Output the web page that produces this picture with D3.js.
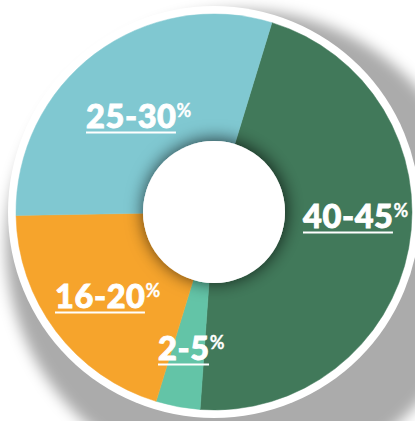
<!DOCTYPE html>
<html><head><meta charset="utf-8">
<script src="https://cdn.jsdelivr.net/npm/d3@7/dist/d3.min.js"></script>
<style>html,body{margin:0;padding:0;background:#fff;}svg{display:block;}</style>
</head><body>
<svg id="c" width="415" height="421"></svg>
<script>
const categories = ["40-45", "2-5", "16-20", "25-30"];
const values = [46.4, 3.6, 20, 30];
const colors = ["#41795A", "#63C4A7", "#F6A42C", "#80C8D1"];

const W = 415, H = 421, cx = 214, cy = 212;
const rOuter = 198, rInner = 71, rRing = 206;
const svg = d3.select("#c");
const defs = svg.append("defs");
const f1 = defs.append("filter").attr("id","outerShadow").attr("x","-30%").attr("y","-30%").attr("width","160%").attr("height","160%");
f1.append("feGaussianBlur").attr("stdDeviation",7);
const f2 = defs.append("filter").attr("id","holeShadow").attr("x","-50%").attr("y","-50%").attr("width","200%").attr("height","200%");
f2.append("feDropShadow").attr("dx",1).attr("dy",-1).attr("stdDeviation",9).attr("flood-color","#000").attr("flood-opacity",0.75);

const g = svg.append("g").attr("transform", `translate(${cx},${cy})`);
// cast shadow of the whole disc
g.append("circle").attr("cx", 28).attr("cy", 34).attr("r", 236)
  .attr("fill", "#000").attr("fill-opacity", 0.33).attr("filter","url(#outerShadow)");
g.append("circle").attr("r", rRing).attr("fill", "#fff");

const data = categories.map((c,i)=>({cat:c, value:values[i], color:colors[i]}));
const a0 = 17*Math.PI/180;
const pie = d3.pie().sort(null).value(d=>d.value).startAngle(a0).endAngle(a0 + 2*Math.PI);
const arc = d3.arc().innerRadius(0).outerRadius(rOuter);
const arcs = pie(data);
g.selectAll("path.slice").data(arcs).join("path").attr("class","slice")
  .attr("d", arc).attr("fill", d=>d.data.color).attr("stroke", d=>d.data.color).attr("stroke-width",0.5);

const clip = defs.append("clipPath").attr("id","discClip");
clip.append("circle").attr("cx",cx).attr("cy",cy).attr("r", rOuter);
const hg = svg.append("g").attr("clip-path","url(#discClip)").append("g").attr("transform", `translate(${cx},${cy})`);
hg.append("circle").attr("r", rInner).attr("fill", "#fff").attr("filter","url(#holeShadow)");
g.append("circle").attr("r", rInner).attr("fill", "#fff");

// label layout (start x, baseline y relative to center)
const labelLayout = {"40-45":[89,16], "2-5":[-56,148], "16-20":[-159,96], "25-30":[-128,-84]};
const fs = 32.5;
arcs.forEach(a=>{
  const [lx, ly] = labelLayout[a.data.cat];
  const t = svg.append("text").attr("x", cx+lx).attr("y", cy+ly)
    .attr("font-family","Lato, 'Open Sans', sans-serif").attr("font-weight",900)
    .attr("font-size", fs).attr("fill","#fff").attr("stroke","#fff").attr("stroke-width",0.9)
    .attr("letter-spacing", 0.6);
  const main = t.append("tspan").text(a.data.cat);
  const w = main.node().getComputedTextLength();
  t.append("tspan").attr("font-size", 18).attr("font-weight",700).attr("stroke-width",0.3)
    .attr("letter-spacing",0).attr("dy", -11).attr("dx", 0).text("%");
  svg.append("rect").attr("x", cx+lx).attr("y", cy+ly+3.5).attr("width", w - 0.6).attr("height", 2).attr("fill","#fff");
});
</script>
</body></html>
